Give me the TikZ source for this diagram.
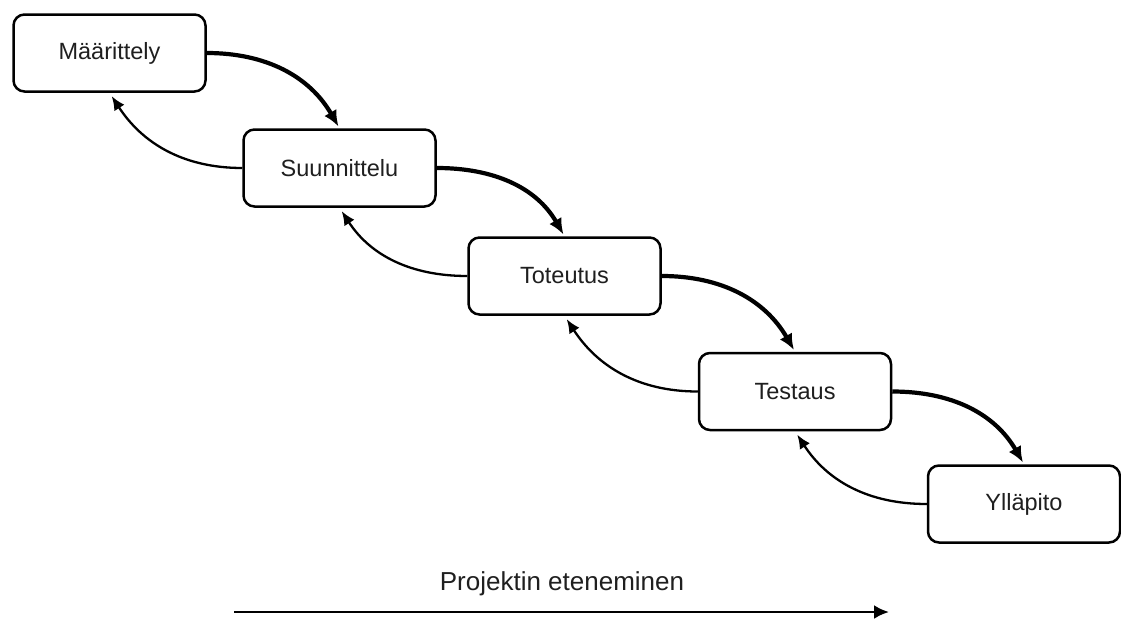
\documentclass[tikz,border=0pt]{standalone}
\usepackage{fontspec}
\setmainfont{Liberation Sans}
\usetikzlibrary{arrows.meta}
\begin{document}
\begin{tikzpicture}[x=1pt,y=-1pt,
  phase/.style={draw=black, line width=2.5pt, rounded corners=11pt, fill=white,
    minimum width=192pt, minimum height=77pt, inner sep=0pt,
    font=\fontsize{23.5}{28}\selectfont, text=black!88},
  fwd/.style={line width=4.2pt, -{Latex[length=16pt,width=14pt]}, shorten >=2pt},
  back/.style={line width=2.3pt, -{Latex[length=14pt,width=12pt]}, shorten >=4pt}]
\useasboundingbox (0,0) rectangle (1121,621);
\node[phase] (m) at (109.5,53) {Määrittely};
\node[phase] (s) at (339.5,168) {Suunnittelu};
\node[phase] (t) at (564.5,276) {Toteutus};
\node[phase] (te) at (795,391.5) {Testaus};
\node[phase] (y) at (1024,504) {Ylläpito};
\draw[fwd] (m.east) to[out=0,in=120] (s.north);
\draw[fwd] (s.east) to[out=0,in=120] (t.north);
\draw[fwd] (t.east) to[out=0,in=120] (te.north);
\draw[fwd] (te.east) to[out=0,in=120] (y.north);
\draw[back] (s.west) to[out=180,in=-57] (m.south);
\draw[back] (t.west) to[out=180,in=-57] (s.south);
\draw[back] (te.west) to[out=180,in=-57] (t.south);
\draw[back] (y.west) to[out=180,in=-57] (te.south);
\node[font=\fontsize{26}{30}\selectfont, text=black!88, anchor=base, inner sep=0pt] (lbl) at (562,590) {Projektin eteneminen};
\coordinate (a0) at (234,612);
\coordinate (a1) at (889,612);
\draw[line width=2.6pt, -{Latex[length=15pt,width=14pt]}] (a0) -- (a1);
\end{tikzpicture}
\end{document}
